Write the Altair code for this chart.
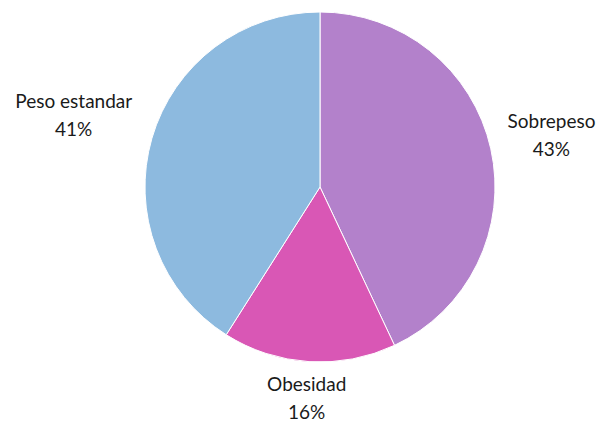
import altair as alt
import pandas as pd

categories = ["Sobrepeso", "Obesidad", "Peso estandar"]
values = [43, 16, 41]
colors = ["#B381CB", "#D957B5", "#8DBADF"]

df = pd.DataFrame({"cat": categories, "val": values, "ord": list(range(len(categories)))})

arcs = alt.Chart(df).mark_arc(radius=175, stroke="white", strokeWidth=1).encode(
    theta=alt.Theta("val:Q", stack=True),
    order=alt.Order("ord:Q"),
    color=alt.Color("cat:N", scale=alt.Scale(domain=categories, range=colors), legend=None),
    x=alt.value(312), y=alt.value(179),
)

labels = alt.Chart(df).transform_joinaggregate(
    total="sum(val)"
).transform_window(
    cum="sum(val)", sort=[alt.SortField("ord")], frame=[None, 0]
).transform_calculate(
    mid="(datum.cum - datum.val/2) / datum.total * 2 * PI",
    label="datum.cat + '\\n' + datum.val + '%'",
    r="190 + abs(sin(datum.mid)) * length(datum.cat) * 4.9 + abs(cos(datum.mid)) * 19",
).mark_text(
    font="Lato", fontSize=19, color="#1a1a1a", lineBreak="\n", lineHeight=28,
    align="center", baseline="middle", dy=-13, clip=False,
).encode(
    text="label:N",
    theta=alt.Theta("mid:Q", scale=None, stack=None),
    radius=alt.Radius("r:Q", scale=None),
    x=alt.value(312), y=alt.value(179),
)

chart = alt.layer(arcs, labels).resolve_scale(theta="independent").properties(
    width=590, height=412, autosize=alt.AutoSizeParams(type="none"), padding=0
).configure_view(stroke=None)

chart.save("out.html", embed_options={"renderer": "svg", "actions": False})
